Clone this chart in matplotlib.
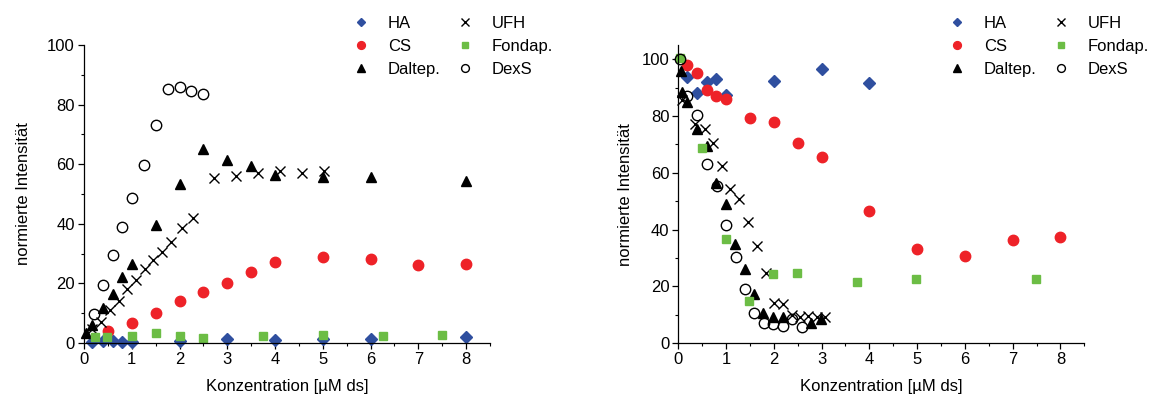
import matplotlib
matplotlib.use("Agg")
import matplotlib.pyplot as plt
from matplotlib.ticker import MultipleLocator
from matplotlib.lines import Line2D

plt.rcParams['font.family'] = ['Liberation Sans', 'DejaVu Sans']

# ---------------- Left panel data ----------------
L_HA_x = [0.17, 0.39, 0.6, 0.79, 1.0, 2.0, 3.0, 4.0, 5.0, 6.0, 8.0]
L_HA_y = [0.4, 0.6, 0.8, 0.4, 0.2, 0.8, 1.3, 1.0, 1.3, 1.3, 2.1]

L_CS_x = [0.5, 1.0, 1.5, 2.0, 2.5, 3.0, 3.5, 4.0, 5.0, 6.0, 7.0, 8.0]
L_CS_y = [4.0, 6.6, 10.2, 14.2, 17.2, 20.1, 23.8, 27.3, 29.0, 28.1, 26.2, 26.4]

L_DAL_x = [0.05, 0.17, 0.39, 0.6, 0.79, 1.0, 1.5, 2.0, 2.5, 3.0, 3.5, 4.0, 5.0, 6.0, 8.0]
L_DAL_y = [3.4, 6.2, 11.6, 16.3, 22.0, 26.5, 39.6, 53.4, 65.1, 61.4, 59.3, 56.5, 55.6, 55.8, 54.5]

L_UFH_x = [0.16, 0.36, 0.55, 0.73, 0.91, 1.09, 1.27, 1.45, 1.63, 1.82, 2.05, 2.28,
           2.73, 3.19, 3.65, 4.1, 4.56, 5.02]
L_UFH_y = [4.7, 7.1, 11.1, 14.2, 18.1, 21.1, 24.8, 28.0, 30.6, 34.0, 38.5, 41.8,
           55.3, 56.0, 57.1, 57.7, 57.1, 57.8]

L_FON_x = [0.22, 0.49, 1.0, 1.5, 2.0, 2.5, 3.75, 5.0, 6.25, 7.5]
L_FON_y = [1.9, 2.0, 2.5, 3.4, 2.2, 1.7, 2.2, 2.6, 2.3, 2.7]

L_DEX_x = [0.2, 0.4, 0.6, 0.8, 1.0, 1.25, 1.5, 1.75, 2.0, 2.25, 2.5]
L_DEX_y = [9.7, 19.4, 29.4, 39.0, 48.6, 59.8, 73.0, 85.3, 85.9, 84.5, 83.7]

# ---------------- Right panel data ----------------
R_HA_x = [0.19, 0.4, 0.6, 0.79, 1.0, 2.0, 3.0, 4.0]
R_HA_y = [93.9, 88.0, 92.0, 93.1, 87.4, 92.2, 96.6, 91.5]

R_CS_x = [0.19, 0.4, 0.6, 0.79, 1.0, 1.5, 2.0, 2.5, 3.0, 4.0, 5.0, 6.0, 7.0, 8.0]
R_CS_y = [97.9, 95.2, 89.1, 87.1, 86.1, 79.3, 78.0, 70.6, 65.5, 46.6, 33.2, 30.7, 36.3, 37.3]

R_DAL_x = [0.05, 0.08, 0.19, 0.4, 0.6, 0.79, 1.0, 1.19, 1.39, 1.59, 1.78, 1.98, 2.19, 2.78, 2.99]
R_DAL_y = [96.0, 88.6, 85.1, 75.6, 69.4, 56.5, 48.9, 35.0, 26.1, 17.4, 10.8, 9.4, 9.2, 7.0, 8.5]

R_UFH_x = [0.07, 0.35, 0.55, 0.72, 0.91, 1.09, 1.27, 1.45, 1.64, 1.83, 2.0, 2.19,
           2.38, 2.55, 2.72, 2.9, 3.08]
R_UFH_y = [85.7, 77.2, 75.5, 70.6, 62.5, 54.3, 50.7, 42.6, 34.4, 24.8, 14.3, 13.8,
           10.0, 9.4, 9.6, 9.2, 9.4]

R_FON_x = [0.03, 0.5, 1.0, 1.49, 1.99, 2.49, 3.74, 4.98, 7.49]
R_FON_y = [100.5, 68.8, 36.8, 14.9, 24.3, 24.9, 21.5, 22.5, 22.6]

R_DEX_x = [0.03, 0.18, 0.4, 0.6, 0.8, 1.0, 1.2, 1.39, 1.59, 1.8, 1.99, 2.19, 2.39, 2.59]
R_DEX_y = [100.0, 87.1, 80.4, 63.0, 55.5, 41.8, 30.3, 19.2, 10.6, 7.3, 6.8, 6.2, 8.5, 5.7]

labels = ['HA', 'CS', 'Daltep.', 'UFH', 'Fondap.', 'DexS']
xlabel = 'Konzentration [µM ds]'
ylabel = 'normierte Intensität'

BLUE = '#2f4f9f'
RED = '#ee2228'
GREEN = '#6cbd45'

styles = {
    'HA': dict(marker='D', color=BLUE, ms=6, mec=BLUE, ls='none'),
    'CS': dict(marker='o', color=RED, ms=7.5, mec=RED, ls='none'),
    'Daltep.': dict(marker='^', color='black', ms=7.5, mec='black', ls='none'),
    'UFH': dict(marker='x', color='black', ms=7.5, mew=1.0, ls='none'),
    'Fondap.': dict(marker='s', color=GREEN, ms=6, mec=GREEN, ls='none'),
    'DexS': dict(marker='o', mfc='none', mec='black', ms=7.5, mew=1.0, ls='none'),
}

W, H = 1154, 403
fig = plt.figure(figsize=(W / 100, H / 100), dpi=100)

FS = 12

def setup(ax, ylim_top, ylabelpad):
    ax.set_xlim(0, 8.5)
    ax.set_ylim(0, ylim_top)
    ax.spines['top'].set_visible(False)
    ax.spines['right'].set_visible(False)
    for s in ['left', 'bottom']:
        ax.spines[s].set_linewidth(0.9)
    ax.xaxis.set_major_locator(MultipleLocator(1))
    ax.xaxis.set_minor_locator(MultipleLocator(0.5))
    ax.yaxis.set_major_locator(MultipleLocator(20))
    ax.yaxis.set_minor_locator(MultipleLocator(10))
    ax.tick_params(which='major', direction='out', length=4.5, width=0.9, labelsize=FS, pad=2)
    ax.tick_params(which='minor', direction='out', length=2.5, width=0.8)
    ax.set_xlabel(xlabel, fontsize=FS, labelpad=8.5)
    ax.set_ylabel(ylabel, fontsize=FS, labelpad=ylabelpad)

def legend(fig, anchor):
    handles = []
    for lab in labels:
        st = dict(styles[lab])
        st['ms'] = st['ms'] * 0.75
        handles.append(Line2D([], [], **st))
    fig.legend(handles, labels, ncol=2, loc='upper left', bbox_to_anchor=anchor,
               frameon=False, fontsize=FS, handlelength=1.0, handletextpad=1.1,
               columnspacing=1.0, labelspacing=0.5, borderaxespad=0)

axL = fig.add_axes([84 / W, 1 - 343 / H, 406 / W, 298 / H])
axR = fig.add_axes([678.3 / W, 1 - 343.3 / H, 406 / W, 298.3 / H])

setup(axL, 100, 12)
setup(axR, 105, 6)

data_L = {
    'HA': (L_HA_x, L_HA_y), 'CS': (L_CS_x, L_CS_y), 'Daltep.': (L_DAL_x, L_DAL_y),
    'UFH': (L_UFH_x, L_UFH_y), 'Fondap.': (L_FON_x, L_FON_y), 'DexS': (L_DEX_x, L_DEX_y),
}
data_R = {
    'HA': (R_HA_x, R_HA_y), 'CS': (R_CS_x, R_CS_y), 'Daltep.': (R_DAL_x, R_DAL_y),
    'UFH': (R_UFH_x, R_UFH_y), 'Fondap.': (R_FON_x, R_FON_y), 'DexS': (R_DEX_x, R_DEX_y),
}

for ax, data in [(axL, data_L), (axR, data_R)]:
    for lab in labels:
        x, y = data[lab]
        ax.plot(x, y, clip_on=False, **styles[lab])

legend(fig, (346 / W, 1 - 9 / H))
legend(fig, (942 / W, 1 - 9 / H))

fig.savefig('out.png', dpi=100)
